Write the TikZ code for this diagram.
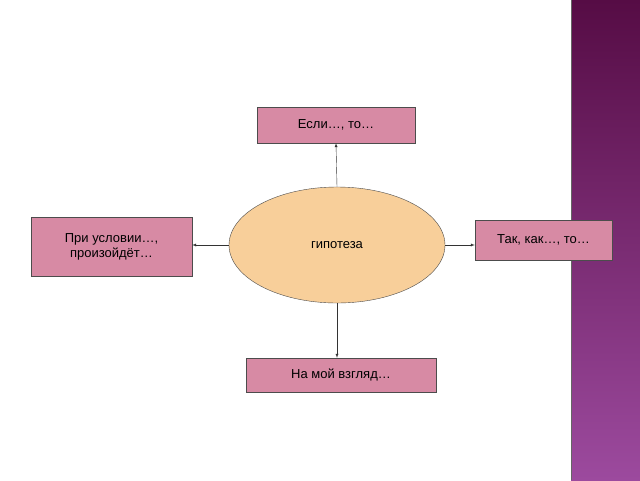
\documentclass[tikz,border=0pt]{standalone}
\usepackage{fontspec}
\setmainfont{Liberation Sans}
\usetikzlibrary{shapes.geometric}
\definecolor{boxpink}{HTML}{D78AA4}
\definecolor{eggfill}{HTML}{F8CF9A}
\definecolor{bandtop}{HTML}{560C45}
\definecolor{bandbot}{HTML}{9C4A9E}
\begin{document}
\begin{tikzpicture}[x=1pt,y=-1pt,
    idea/.style={draw=black!70, fill=boxpink, font=\fontsize{13}{15}\selectfont, align=center, inner sep=0pt},
    link/.style={-latex, black!80}]
    \useasboundingbox (0,0) rectangle (640,480);
    % background
    \fill[white] (0,0) rectangle (640,480);
    \shade[top color=bandtop, bottom color=bandbot] (571,0) rectangle (640,480);
    \draw[black!60] (571,0) -- (571,480);
    % centre
    \node[ellipse, draw=black!70, fill=eggfill, minimum width=216pt, minimum height=116pt,
          font=\fontsize{13}{15}\selectfont] (hyp) at (337,245) {гипотеза};
    % boxes
    \node[idea, minimum width=158pt, minimum height=36pt] (esli) at (336,125) {Если…, то…};
    \node[idea, minimum width=161pt, minimum height=59pt] (pri) at (111.5,246.5) {При условии…,\\произойдёт…};
    \node[idea, minimum width=137pt, minimum height=40pt] (tak) at (543.5,240) {Так, как…, то…};
    \node[idea, minimum width=190pt, minimum height=34pt] (moy) at (341,375) {На мой взгляд…};
    % links
    \draw[link] (hyp.north) -- (esli.south);
    \draw[link] (hyp.west) -- (pri.east |- hyp.west);
    \draw[link] (hyp.east) -- (tak.west |- hyp.east);
    \draw[link] (hyp.south) -- (hyp.south |- moy.north);
\end{tikzpicture}
\end{document}
